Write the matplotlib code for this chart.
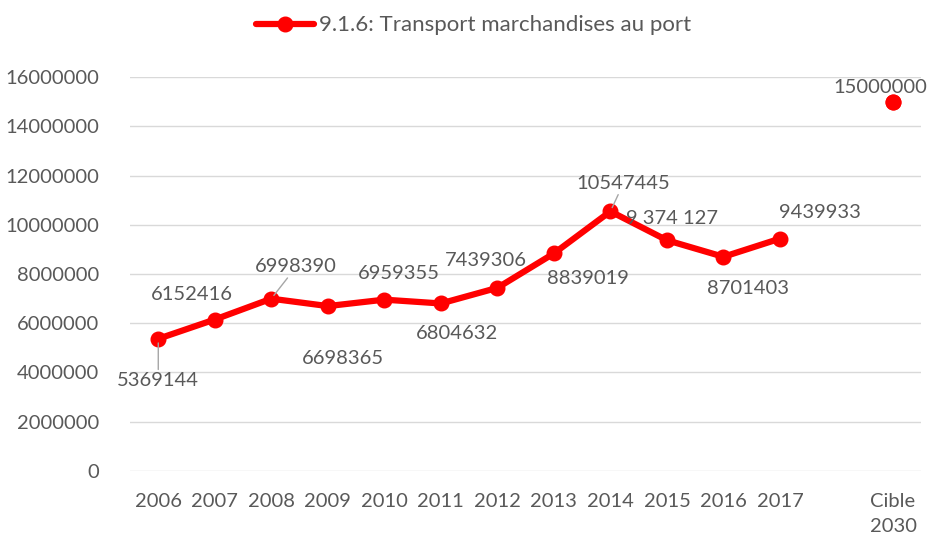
import numpy as np
import matplotlib.pyplot as plt

plt.rcParams['font.family'] = ['Lato', 'DejaVu Sans']

# données du port
categories = ['2006', '2007', '2008', '2009', '2010', '2011', '2012',
              '2013', '2014', '2015', '2016', '2017', '', 'Cible\n2030']
values = [5369144, 6152416, 6998390, 6698365, 6959355, 6804632, 7439306,
          8839019, 10547445, 9374127, 8701403, 9439933, np.nan, 15000000]
labels = ['5369144', '6152416', '6998390', '6698365', '6959355', '6804632',
          '7439306', '8839019', '10547445', '9 374 127', '8701403',
          '9439933', '', '15000000']
# décalage des étiquettes (pixels) et trait de rappel
offsets = [(0, -42), (-23, 25), (25, 32), (15, -52), (15, 26), (16, -30),
           (-12, 27), (34, -25), (13, 28), (5, 22), (25, -32), (40, 26),
           (0, 0), (-13, 14)]
leaders = [True, False, True, False, False, False, False,
           False, True, False, False, False, False, False]

red = '#ff0000'
grey = '#595959'

fig = plt.figure(figsize=(9.32, 5.4), dpi=100)
ax = fig.add_axes([0.1395, 0.128, 0.849, 0.729])

x = np.arange(len(categories))
ax.plot(x, values, color=red, lw=4.5, marker='o', ms=10.5,
        solid_capstyle='round', label='9.1.6: Transport marchandises au port')
ax.plot(x[-1], values[-1], 'o', color=red, ms=10.5)

for xi, v, lab, off, lead in zip(x, values, labels, offsets, leaders):
    if not lab:
        continue
    kw = {}
    if lead:
        kw['arrowprops'] = dict(arrowstyle='-', color='#a6a6a6', lw=1,
                                shrinkA=0, shrinkB=3)
    ax.annotate(lab, (xi, v), xytext=off, textcoords='offset pixels',
                ha='center', va='center', fontsize=14.5, color=grey,
                annotation_clip=False, **kw)

ax.set_xlim(-0.5, len(categories) - 0.5)
ax.set_ylim(0, 16000000)
ax.set_yticks(np.arange(0, 16000001, 2000000))
ax.set_yticklabels([str(t) for t in range(0, 16000001, 2000000)])
ax.set_xticks(x)
ax.set_xticklabels(categories, linespacing=1.55)
ax.tick_params(length=0, labelsize=14.5, labelcolor=grey)
ax.tick_params(axis='x', pad=16)
ax.tick_params(axis='y', pad=22)
ax.grid(axis='y', color='#d9d9d9', lw=1)
ax.set_axisbelow(True)
for s in ax.spines.values():
    s.set_visible(False)

fig.legend(handles=ax.lines[:1], loc='center', bbox_to_anchor=(0.508, 0.953),
           frameon=False, fontsize=16, labelcolor=grey, handlelength=2.6,
           handletextpad=0.2)

fig.savefig('out.png', dpi=100)
